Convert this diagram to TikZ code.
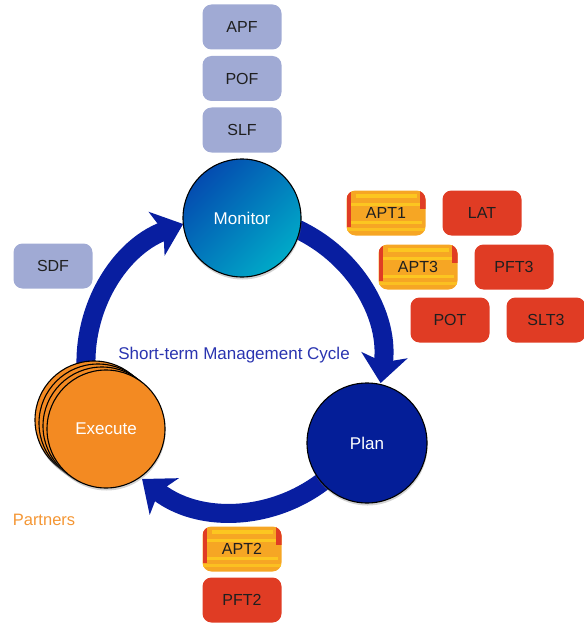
\documentclass[tikz,border=0pt]{standalone}
\usepackage{fontspec}
\setmainfont{Liberation Sans}
\usetikzlibrary{arrows.meta,shadows,calc}

\definecolor{lav}{RGB}{160,170,212}
\definecolor{tred}{RGB}{224,60,36}
\definecolor{torange}{RGB}{246,166,36}
\definecolor{tyellow}{RGB}{252,198,32}
\definecolor{cycblue}{RGB}{8,30,160}
\definecolor{planblue}{RGB}{4,30,152}
\definecolor{monA}{RGB}{4,76,176}
\definecolor{monB}{RGB}{0,170,200}
\definecolor{exorange}{RGB}{243,138,34}
\definecolor{cyctext}{RGB}{42,52,176}
\definecolor{partner}{RGB}{244,150,52}

\begin{document}
\begin{tikzpicture}[x=1pt,y=-1pt,
  tag/.style={rectangle, rounded corners=9pt, minimum width=79pt,
    minimum height=45pt, inner sep=0pt,
    font=\fontsize{16}{19}\selectfont, text=black!88},
  fbox/.style={tag, fill=lav},
  tbox/.style={tag, fill=tred},
  abox/.style={tag, fill=torange, path picture={
    \coordinate (pp) at (path picture bounding box.north west);
    \begin{scope}[sharp corners]
    \fill[tyellow] ($(pp)+(9pt,-3pt)$) rectangle ($(pp)+(70pt,-7.5pt)$);
    \fill[tyellow] ($(pp)+(4pt,-12pt)$) rectangle ($(pp)+(75pt,-15pt)$);
    \fill[tyellow] ($(pp)+(4pt,-30pt)$) rectangle ($(pp)+(75pt,-33pt)$);
    \fill[tyellow!80!torange] ($(pp)+(0pt,-37pt)$) rectangle ($(pp)+(79pt,-40pt)$);
    \fill[tred] (pp) rectangle ($(pp)+(4.5pt,-36pt)$);
    \fill[tred] ($(pp)+(73pt,0pt)$) rectangle ($(pp)+(79pt,-18pt)$);
    \end{scope}
  }},
  stage/.style={circle, draw=black, line width=1.1pt, minimum size=118pt,
    inner sep=0pt, font=\fontsize{17}{20}\selectfont, text=white,
    drop shadow={shadow xshift=0.5pt, shadow yshift=-2.5pt, opacity=0.35}},
  cyclearrow/.style={line width=19pt, draw=cycblue,
    -{Stealth[length=28pt, width=46pt, inset=7pt]}}
]
\useasboundingbox (0,0) rectangle (583,623);

% ring of the management cycle
\coordinate (hub) at (234,363);
\draw[cyclearrow] (hub) ++(170:148) arc[start angle=170, end angle=249.9, radius=148];
\draw[cyclearrow] (hub) ++(285:148) arc[start angle=285, end angle=367.8, radius=148];
\draw[cyclearrow] (hub) ++(40:148) arc[start angle=40, end angle=128.4, radius=148];

\node[text=cyctext, font=\fontsize{17}{20}\selectfont] (cyclabel) at (234,355)
  {Short-term Management Cycle};

% stages
\node[stage, shade, top color=monA, bottom color=monB, shading angle=45]
  (monitor) at (242,218) {Monitor};
\node[stage, fill=planblue, minimum size=120pt] (plan) at (367,443) {Plan};
\node[stage, fill=exorange] (exec3) at (94,420) {};
\node[stage, fill=exorange] (exec2) at (98,423) {};
\node[stage, fill=exorange] (exec1) at (102,426) {};
\node[stage, fill=exorange] (exec) at (106,429) {Execute};

\node[text=partner, font=\fontsize{16.5}{19}\selectfont] (partners) at (44,520) {Partners};

% monitoring inputs
\node[fbox] (apf) at (242,27) {APF};
\node[fbox] (pof) at (242,78.5) {POF};
\node[fbox] (slf) at (242,130) {SLF};
\node[fbox] (sdf) at (53,266) {SDF};

% planning tasks
\node[abox] (apt1) at (386,213) {APT1};
\node[tbox] (lat) at (482,213) {LAT};
\node[abox] (apt3) at (418,267) {APT3};
\node[tbox] (pft3) at (514,267) {PFT3};
\node[tbox] (pot) at (450,320) {POT};
\node[tbox] (slt3) at (546,320) {SLT3};

% execution tasks
\node[abox] (apt2) at (242,549) {APT2};
\node[tbox] (pft2) at (242,600) {PFT2};
\end{tikzpicture}
\end{document}
